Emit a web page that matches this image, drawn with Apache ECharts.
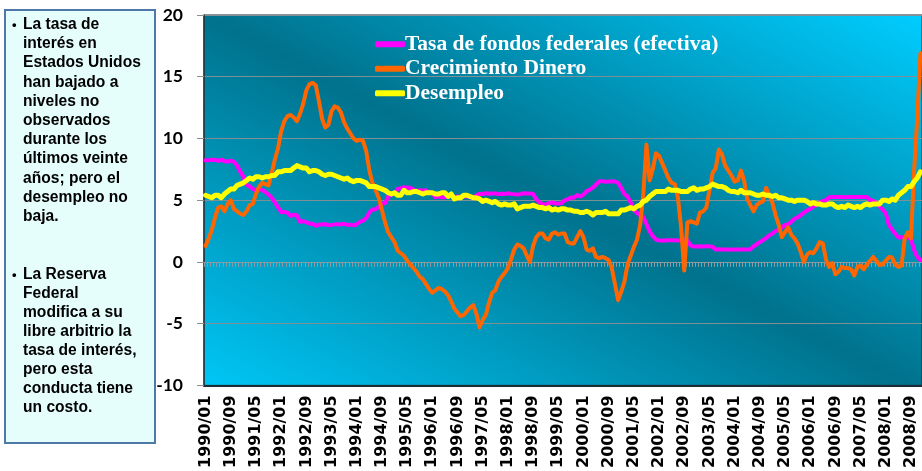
<!DOCTYPE html>
<html><head><meta charset="utf-8">
<script src="https://cdn.jsdelivr.net/npm/echarts@6/dist/echarts.min.js"></script>
<style>html,body{margin:0;padding:0;background:#fff}#c{width:922px;height:471px}</style>
</head><body><div id="c"></div>
<script>
// Monthly categories 1990/01 .. 2008/12
const years = [1990,1991,1992,1993,1994,1995,1996,1997,1998,1999,2000,2001,2002,2003,2004,2005,2006,2007,2008];
const months = ['01','02','03','04','05','06','07','08','09','10','11','12'];
const categories = [];
years.forEach(y => months.forEach(m => categories.push(y + '/' + m)));

const seriesNames = ['Tasa de fondos federales (efectiva)', 'Crecimiento Dinero', 'Desempleo'];

const fedFunds = [
  8.23,8.24,8.28,8.26,8.18,8.29,8.15,8.13,8.20,8.11,7.81,7.31,
  6.91,6.25,6.12,5.91,5.78,5.90,5.82,5.66,5.45,5.21,4.81,4.43,
  4.03,4.06,3.98,3.73,3.82,3.76,3.25,3.30,3.22,3.10,3.09,2.92,
  3.02,3.03,3.07,2.96,3.00,3.04,3.06,3.03,3.09,2.99,3.02,2.96,
  3.05,3.25,3.34,3.56,4.01,4.25,4.26,4.47,4.73,4.76,5.29,5.45,
  5.53,5.92,5.98,6.05,6.01,6.00,5.85,5.74,5.80,5.76,5.80,5.60,
  5.56,5.22,5.31,5.22,5.24,5.27,5.40,5.22,5.30,5.24,5.31,5.29,
  5.25,5.19,5.39,5.51,5.50,5.56,5.52,5.54,5.54,5.50,5.52,5.50,
  5.56,5.51,5.49,5.45,5.49,5.56,5.54,5.55,5.51,5.07,4.83,4.68,
  4.63,4.76,4.81,4.74,4.74,4.76,4.99,5.07,5.22,5.20,5.42,5.30,
  5.45,5.73,5.85,6.02,6.27,6.53,6.54,6.50,6.52,6.51,6.51,6.40,
  5.98,5.49,5.31,4.80,4.21,3.97,3.77,3.65,3.07,2.49,2.09,1.82,
  1.73,1.74,1.73,1.75,1.75,1.75,1.73,1.74,1.75,1.75,1.34,1.24,
  1.24,1.26,1.25,1.26,1.26,1.22,1.01,1.03,1.01,1.01,1.00,0.98,
  1.00,1.01,1.00,1.00,1.00,1.03,1.26,1.43,1.61,1.76,1.93,2.16,
  2.28,2.50,2.63,2.79,3.00,3.04,3.26,3.50,3.62,3.78,4.00,4.16,
  4.29,4.49,4.59,4.79,4.94,4.99,5.24,5.25,5.25,5.25,5.25,5.24,
  5.25,5.26,5.26,5.25,5.25,5.25,5.26,5.02,4.94,4.76,4.49,4.24,
  3.94,2.98,2.61,2.28,1.98,2.00,2.01,2.00,1.81,0.97,0.39,0.16
];

const moneyGrowth = [
  1.3,1.9,2.6,3.6,4.4,4.5,4.1,4.7,5.0,4.3,4.1,3.9,
  3.8,4.1,4.6,4.7,5.5,6.1,6.4,6.3,6.2,7.2,8.3,9.2,
  10.6,11.4,11.8,11.9,11.7,11.4,12.0,12.8,13.9,14.4,14.5,14.3,
  13.0,11.6,10.9,11.1,12.2,12.6,12.5,12.1,11.3,10.8,10.4,10.0,
  9.8,9.9,9.8,9.0,7.4,6.4,5.8,5.2,4.2,3.2,2.4,2.0,
  1.6,0.9,0.7,0.5,0.1,-0.2,-0.5,-0.8,-1.2,-1.4,-1.8,-2.2,
  -2.5,-2.3,-2.1,-2.2,-2.4,-2.7,-3.2,-3.8,-4.1,-4.4,-4.3,-4.0,
  -3.7,-3.5,-4.2,-5.3,-4.7,-4.3,-3.3,-2.5,-2.3,-1.6,-1.2,-0.9,
  -0.5,0.2,1.0,1.4,1.3,1.1,0.5,0.0,1.3,2.0,2.3,2.3,
  1.9,1.8,2.3,2.4,2.2,2.3,2.3,1.6,1.5,1.5,2.0,2.5,
  2.0,1.0,0.9,1.1,0.4,0.3,0.4,0.3,0.15,-0.5,-1.8,-3.1,
  -2.4,-1.6,-0.2,0.5,1.2,1.8,3.0,5.5,9.5,6.6,7.5,8.8,
  8.6,8.0,7.4,6.8,6.4,6.3,5.2,2.8,-0.7,3.2,3.3,3.2,
  3.1,4.0,4.1,4.4,5.8,7.2,7.6,9.1,8.7,7.8,7.4,7.0,
  6.5,6.6,7.4,6.6,5.1,4.6,4.1,4.6,4.8,4.9,6.0,5.4,
  4.8,3.8,3.0,2.0,2.4,2.8,2.2,1.9,1.5,0.8,0.0,0.6,
  0.8,0.7,1.1,1.6,1.5,0.2,-0.4,-0.1,-1.0,-0.8,-0.4,-0.5,
  -0.5,-0.6,-1.1,-0.4,-0.3,-0.6,-0.2,0.1,0.4,0.1,-0.25,-0.2,
  0.1,0.4,0.35,-0.2,-0.4,-0.3,1.9,2.4,1.9,7.4,11.7,16.9
];

const unemployment = [
  5.4,5.3,5.2,5.4,5.4,5.2,5.5,5.7,5.9,5.9,6.2,6.3,
  6.4,6.6,6.8,6.7,6.9,6.9,6.8,6.9,6.9,7.0,7.0,7.3,
  7.3,7.4,7.4,7.4,7.6,7.8,7.7,7.6,7.6,7.3,7.4,7.4,
  7.3,7.1,7.0,7.1,7.1,7.0,6.9,6.8,6.7,6.8,6.6,6.5,
  6.6,6.6,6.5,6.4,6.1,6.1,6.1,6.0,5.9,5.8,5.6,5.5,
  5.6,5.4,5.4,5.8,5.6,5.6,5.7,5.7,5.6,5.5,5.6,5.6,
  5.6,5.5,5.5,5.6,5.6,5.3,5.5,5.1,5.2,5.2,5.4,5.4,
  5.3,5.2,5.2,5.1,4.9,5.0,4.9,4.8,4.9,4.7,4.6,4.7,
  4.6,4.6,4.7,4.3,4.4,4.5,4.5,4.5,4.6,4.5,4.4,4.4,
  4.3,4.4,4.2,4.3,4.2,4.3,4.3,4.2,4.2,4.1,4.1,4.0,
  4.0,4.1,4.0,3.8,4.0,4.0,4.0,4.1,3.9,3.9,3.9,3.9,
  4.2,4.2,4.3,4.4,4.3,4.5,4.6,4.9,5.0,5.3,5.5,5.7,
  5.7,5.7,5.7,5.9,5.8,5.8,5.8,5.7,5.7,5.7,5.9,6.0,
  5.8,5.9,5.9,6.0,6.1,6.3,6.2,6.1,6.1,6.0,5.8,5.7,
  5.7,5.6,5.8,5.6,5.6,5.6,5.5,5.4,5.4,5.5,5.4,5.4,
  5.3,5.4,5.2,5.2,5.1,5.0,5.0,4.9,5.0,5.0,5.0,4.9,
  4.7,4.8,4.7,4.7,4.6,4.6,4.7,4.7,4.5,4.4,4.5,4.4,
  4.6,4.5,4.4,4.5,4.4,4.6,4.7,4.6,4.7,4.7,4.7,5.0,
  5.0,4.9,5.1,5.0,5.4,5.6,5.8,6.1,6.1,6.5,6.8,7.3
];

const yMin = -10, yMax = 20, yStep = 5;

const noteBlock1 = ['La tasa de','interés en','Estados Unidos','han bajado a','niveles no','observados','durante los','últimos veinte','años; pero el','desempleo no','baja.'];
const noteBlock2 = ['La Reserva','Federal','modifica a su','libre arbitrio la','tasa de interés,','pero esta','conducta tiene','un costo.'];

const chart = echarts.init(document.getElementById('c'), null, {renderer: 'canvas'});
const boxFont = 'bold 15.6px "Liberation Sans", Arial, sans-serif';
const bulletFont = 'bold 13px "Liberation Sans", Arial, sans-serif';

const option = {
  animation: false,
  grid: {
    left: 204, right: 0, top: 15, bottom: 78,
    show: true,
    borderColor: '#1c2c34', borderWidth: 1,
    backgroundColor: {
      type: 'linear', global: true,
      x: 407, y: 500, x2: 719, y2: -92,
      colorStops: [
        {offset: 0, color: '#00c8f8'},
        {offset: 0.5, color: '#00728d'},
        {offset: 1, color: '#00cdff'}
      ]
    }
  },
  legend: {
    orient: 'vertical', left: 370, top: 27,
    itemWidth: 30, itemHeight: 6, itemGap: 0,
    icon: 'roundRect',
    data: seriesNames,
    textStyle: {color: '#ffffff', fontFamily: '"Liberation Serif", "Times New Roman", serif', fontWeight: 'bold', fontSize: 21.5, lineHeight: 24.5, padding: [0, 0, 0, -5]}
  },
  xAxis: [
    {
      type: 'category', data: categories, position: 'bottom', boundaryGap: true,
      axisLine: {onZero: false, show: true, lineStyle: {color: '#1c2c34', width: 2}},
      axisTick: {show: false},
      axisLabel: {interval: 7, rotate: 90, margin: 10, color: '#000', fontFamily: '"DejaVu Sans", sans-serif', fontWeight: 'bold', fontSize: 16},
      splitLine: {show: false}
    },
    {
      type: 'category', data: categories, position: 'bottom', boundaryGap: true,
      axisLine: {onZero: true, onZeroAxisIndex: 0, show: true, lineStyle: {color: '#8a9aa0', width: 1}},
      axisTick: {show: true, interval: 0, length: 5, lineStyle: {color: '#8a9aa0'}},
      axisLabel: {show: false},
      splitLine: {show: false}
    }
  ],
  yAxis: {
    type: 'value', min: yMin, max: yMax, interval: yStep,
    axisLine: {show: true, lineStyle: {color: '#2a3a42', width: 1.5}},
    axisTick: {show: true, length: 7, lineStyle: {color: '#8c8c8c'}},
    axisLabel: {margin: 21, color: '#000', fontFamily: 'Lato, "Liberation Sans", sans-serif', fontWeight: 'bold', fontSize: 17.5},
    splitLine: {show: true, lineStyle: {color: '#7f8f94', width: 1}}
  },
  series: [
    {name: seriesNames[0], type: 'line', data: fedFunds, xAxisIndex: 0, showSymbol: false, symbol: 'none',
     itemStyle: {color: '#ff00ff'}, lineStyle: {color: '#ff00ff', width: 4, join: 'round', cap: 'round'}},
    {name: seriesNames[1], type: 'line', data: moneyGrowth, xAxisIndex: 0, showSymbol: false, symbol: 'none',
     itemStyle: {color: '#ff6600'}, lineStyle: {color: '#ff6600', width: 4, join: 'round', cap: 'round'}},
    {name: seriesNames[2], type: 'line', data: unemployment, xAxisIndex: 0, showSymbol: false, symbol: 'none',
     itemStyle: {color: '#ffff00'}, lineStyle: {color: '#ffff00', width: 5, join: 'round', cap: 'round'}}
  ],
  graphic: [
    {type: 'rect', left: 4, top: 9, z: 10,
     shape: {width: 150, height: 433}, style: {fill: '#e5fefc', stroke: '#4d78a8', lineWidth: 2}},
    {type: 'text', x: 12, y: 25, z: 11, style: {text: '•', font: bulletFont, fill: '#000', verticalAlign: 'middle'}},
    {type: 'text', x: 23, y: 15, z: 11, style: {text: noteBlock1.join('\n'), font: boxFont, lineHeight: 19.2, fill: '#000', verticalAlign: 'top'}},
    {type: 'text', x: 12, y: 275, z: 11, style: {text: '•', font: bulletFont, fill: '#000', verticalAlign: 'middle'}},
    {type: 'text', x: 23, y: 265, z: 11, style: {text: noteBlock2.join('\n'), font: boxFont, lineHeight: 19.05, fill: '#000', verticalAlign: 'top'}}
  ]
};
chart.setOption(option);
</script>
</body></html>
